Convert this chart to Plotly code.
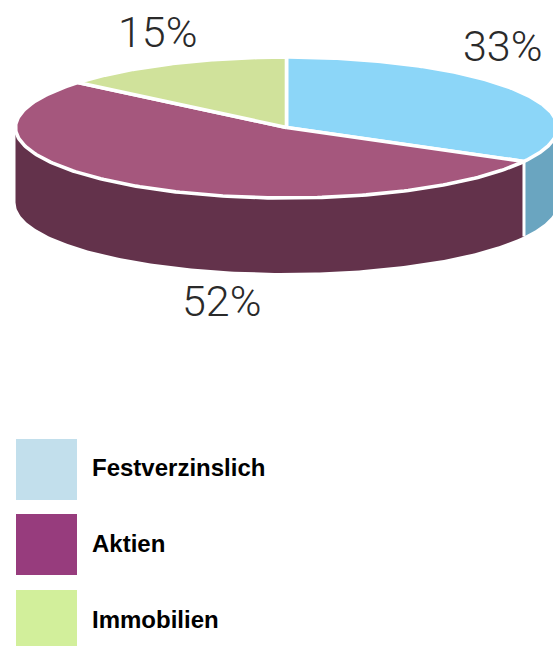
import numpy as np
import plotly.graph_objects as go

categories = ["Festverzinslich", "Aktien", "Immobilien"]
label_values = [33, 52, 15]
drawn_shares = [33, 53, 14]   # wedge sizes as measured on the picture

top_colors = ["#8CD6F8", "#A5577D", "#D0E29B"]
side_colors = ["#6AA5C0", "#63324B", "#A9BA7E"]
legend_colors = ["#C2DFEC", "#973C7D", "#D2EF9B"]

W, H = 553, 646
CX, CY, RX, RY, DEPTH = 286.5, 127.5, 271.0, 70.5, 75.0
FRONT_START, FRONT_END = 90.0, 270.0


def pts(t_deg):
    t = np.radians(t_deg)
    return CX + RX * np.sin(t), CY - RY * np.cos(t)


fig = go.Figure()
edges = np.cumsum([0] + drawn_shares) / sum(drawn_shares) * 360.0

# side walls
for i in range(len(categories)):
    a = max(edges[i], FRONT_START)
    b = min(edges[i + 1], FRONT_END)
    if a >= b:
        continue
    t = np.linspace(a, b, 160)
    x, y = pts(t)
    xs = np.r_[x, x[::-1]]
    ys = np.r_[y, (y + DEPTH)[::-1]]
    fig.add_trace(go.Scatter(x=xs, y=ys, mode="lines", fill="toself",
                             fillcolor=side_colors[i], line=dict(width=0),
                             hoverinfo="skip", showlegend=False))
# separator on the wall
for e in edges[1:-1]:
    if FRONT_START < e < FRONT_END:
        x, y = pts(e)
        fig.add_trace(go.Scatter(x=[x, x], y=[y, y + DEPTH], mode="lines",
                                 line=dict(color="white", width=3),
                                 hoverinfo="skip", showlegend=False))
# top faces
for i, name in enumerate(categories):
    t = np.linspace(edges[i], edges[i + 1], 200)
    x, y = pts(t)
    fig.add_trace(go.Scatter(x=np.r_[CX, x, CX], y=np.r_[CY, y, CY], mode="lines",
                             fill="toself", fillcolor=top_colors[i],
                             line=dict(color="white", width=3.6),
                             name=name, hoverinfo="name", showlegend=False))

shapes = []
swatches = [(439, 500), (514, 575), (590, 646)]
text_y = [467, 543, 619]
annotations = []
for c, col, (y0, y1), ty in zip(categories, legend_colors, swatches, text_y):
    shapes.append(dict(type="rect", xref="x", yref="y", x0=16, x1=77, y0=y0, y1=y1,
                       fillcolor=col, line=dict(width=0)))
    annotations.append(dict(x=89.5, y=ty, xref="x", yref="y", text=f"<b>{c}</b>", showarrow=False,
                            xanchor="left", yanchor="middle",
                            font=dict(family="Liberation Sans", size=24, color="#000000")))

label_pos = [(503, 46), (222, 301), (158, 32)]
for v, (lx, ly) in zip(label_values, label_pos):
    annotations.append(dict(x=lx, y=ly, xref="x", yref="y", text=f"{v}%", showarrow=False,
                            xanchor="center", yanchor="middle",
                            font=dict(family="Roboto Light, Lato Light, Liberation Sans",
                                      size=43, color="#2A2A2A")))

fig.update_layout(
    width=W, height=H, margin=dict(l=0, r=0, t=0, b=0),
    paper_bgcolor="white", plot_bgcolor="white", showlegend=False,
    xaxis=dict(range=[0, W], visible=False, fixedrange=True),
    yaxis=dict(range=[H, 0], visible=False, fixedrange=True),
    shapes=shapes, annotations=annotations,
)
fig.write_html("out.html", config={"displayModeBar": False},
               post_script="document.body.style.margin='0';document.body.style.overflow='hidden';")
